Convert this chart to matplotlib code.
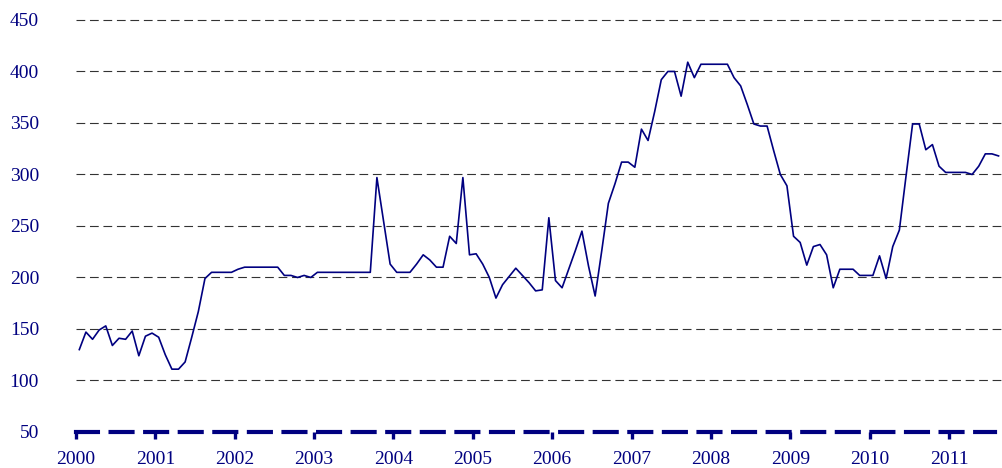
import numpy as np
import matplotlib.pyplot as plt

plt.rcParams['font.family'] = ['Liberation Serif', 'DejaVu Serif']
plt.rcParams['lines.scale_dashes'] = False

# Monthly values, Jan 2000 .. Aug 2011
values = [130, 147, 140, 149, 153, 134, 141, 140, 148, 124, 143, 146,   # 2000
          142, 125, 111, 111, 118, 142, 167, 199, 205, 205, 205, 205,   # 2001
          208, 210, 210, 210, 210, 210, 210, 202, 202, 200, 202, 200,   # 2002
          205, 205, 205, 205, 205, 205, 205, 205, 205, 297, 255, 213,   # 2003
          205, 205, 205, 213, 222, 217, 210, 210, 240, 233, 297, 222,   # 2004
          223, 213, 200, 180, 193, 201, 209, 202, 195, 187, 188, 258,   # 2005
          197, 190, 208, 226, 245, 211, 182, 226, 272, 291, 312, 312,   # 2006
          307, 344, 333, 361, 392, 400, 400, 376, 409, 394, 407, 407,   # 2007
          407, 407, 407, 394, 386, 368, 349, 347, 347, 323, 300, 289,   # 2008
          240, 234, 212, 230, 232, 222, 190, 208, 208, 208, 202, 202,   # 2009
          202, 221, 199, 230, 246, 298, 349, 349, 324, 329, 308, 302,   # 2010
          302, 302, 302, 300, 308, 320, 320, 318]                       # 2011
start_year = 2000
years = list(range(2000, 2012))
yticks = [50, 100, 150, 200, 250, 300, 350, 400, 450]

navy = '#000080'
x = start_year + (np.arange(len(values)) + 0.5) / 12

fig = plt.figure(figsize=(10.02, 4.68), dpi=100)
ax = fig.add_axes([76 / 1002, 36 / 468, 926 / 1002, 417.2 / 468])

# Gridlines
for v in yticks[1:]:
    ax.axhline(v, color='#333333', lw=0.8, linestyle=(0, (6.3, 3.4)), zorder=1)

ax.plot(x, values, color=navy, lw=1.2, zorder=3)

ax.set_xlim(2000, 2000 + 926 / 79.36)
ax.set_ylim(50, 455)

for s in ['left', 'right', 'top']:
    ax.spines[s].set_visible(False)
sp = ax.spines['bottom']
sp.set_color(navy)
sp.set_linewidth(3)
sp.set_linestyle((0, (15.8, 9.1)))
sp.set_bounds(2000, 2011.58)
sp.set_zorder(4)

ax.set_xticks(years)
ax.set_xticklabels([str(y) for y in years])
ax.set_yticks(yticks)
ax.set_yticklabels([str(v) for v in yticks])
ax.tick_params(axis='x', direction='out', length=5, width=2.4, color=navy,
               labelcolor=navy, labelsize=14, pad=9)
ax.tick_params(axis='y', length=0, pad=26.6, labelcolor=navy, labelsize=14)

fig.savefig('out.png', dpi=100)
